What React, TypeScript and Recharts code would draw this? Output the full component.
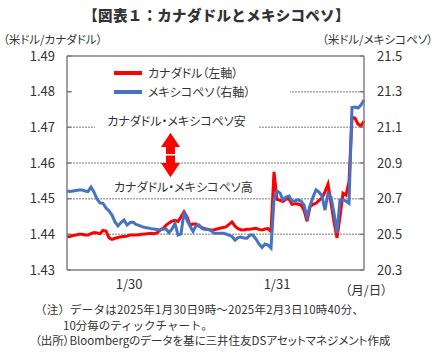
import React from 'react';
import { LineChart, Line, XAxis, YAxis, Legend, ReferenceLine } from 'recharts';

// 10分毎ティック（約3ピクセル毎に間引き）
const cadUsd = [
  1.4393, 1.4394, 1.4397, 1.4398, 1.44, 1.44, 1.4398, 1.4398, 1.4402, 1.4405,
  1.4404, 1.4402, 1.4411, 1.4409, 1.439, 1.4386, 1.4389, 1.4391, 1.4393, 1.4394,
  1.4395, 1.4398, 1.4398, 1.4398, 1.4399, 1.44, 1.4401, 1.4402, 1.4403, 1.4402,
  1.4404, 1.4412, 1.4416, 1.4425, 1.4432, 1.4437, 1.4439, 1.4436, 1.4449, 1.4463,
  1.4449, 1.4426, 1.4429, 1.4429, 1.4423, 1.4419, 1.4416, 1.4414, 1.4412, 1.4413,
  1.4415, 1.4417, 1.4419, 1.4421, 1.4428, 1.4435, 1.4423, 1.4416, 1.4413, 1.4412,
  1.4414, 1.4414, 1.4416, 1.4417, 1.4414, 1.4412, 1.4415, 1.4416, 1.4408, 1.4575,
  1.4498, 1.4495, 1.4492, 1.4499, 1.4499, 1.4484, 1.4486, 1.4485, 1.4482, 1.4468,
  1.4437, 1.4477, 1.4484, 1.4487, 1.4495, 1.4502, 1.452, 1.4541, 1.4488, 1.4435,
  1.439, 1.4449, 1.4515, 1.451, 1.4547, 1.4728, 1.4726, 1.4709, 1.4704, 1.4718,
];

const mxnUsd = [
  20.743, 20.74, 20.743, 20.746, 20.749, 20.749, 20.743, 20.74, 20.765, 20.737,
  20.698, 20.676, 20.674, 20.648, 20.631, 20.608, 20.569, 20.547, 20.566, 20.58,
  20.552, 20.566, 20.569, 20.555, 20.55, 20.543, 20.538, 20.536, 20.532, 20.53,
  20.527, 20.524, 20.53, 20.53, 20.51, 20.53, 20.561, 20.496, 20.502, 20.625,
  20.58, 20.547, 20.516, 20.547, 20.552, 20.533, 20.527, 20.528, 20.521, 20.507,
  20.506, 20.506, 20.506, 20.502, 20.496, 20.488, 20.468, 20.482, 20.485, 20.479,
  20.478, 20.496, 20.496, 20.474, 20.446, 20.426, 20.446, 20.44, 20.423, 20.693,
  20.743, 20.732, 20.693, 20.709, 20.715, 20.687, 20.687, 20.693, 20.687, 20.665,
  20.597, 20.659, 20.709, 20.749, 20.737, 20.715, 20.636, 20.73, 20.709, 20.62,
  20.507, 20.693, 20.693, 20.687, 20.674, 21.211, 21.214, 21.208, 21.225, 21.253,
];

const leftTicks = [1.43, 1.44, 1.45, 1.46, 1.47, 1.48, 1.49];
const rightTicks = [20.3, 20.5, 20.7, 20.9, 21.1, 21.3, 21.5];
const gridLevels = [1.44, 1.45, 1.46, 1.47, 1.48];
const dayBoundaries = [46.67, 93.33];
const dayLabelPos = [20.7, 70];
const dayLabels = ['1/30', '1/31'];

const data = cadUsd.map((cad, i) => ({ t: i, cad, mxn: mxnUsd[i] }));

const FONT = '"Noto Sans CJK JP", "Noto Sans", sans-serif';
const TXT = '#333';
const AXIS = '#808080';

const LegendBox = ({ payload }: any) => (
  <div style={{ background: '#fff', width: 217, height: 40, position: 'relative' }}>
    {(payload || []).map((p: any, i: number) => (
      <div
        key={p.value}
        style={{
          position: 'absolute',
          left: 41,
          top: 3 + i * 19,
          height: 16,
          display: 'flex',
          alignItems: 'center',
        }}
      >
        <span style={{ width: 28, height: 4, background: p.color, display: 'inline-block' }} />
        <span
          style={{
            marginLeft: 6,
            fontSize: 12,
            lineHeight: '16px',
            color: TXT,
            fontFeatureSettings: '"palt"',
            whiteSpace: 'nowrap',
          }}
        >
          {p.value}
        </span>
      </div>
    ))}
  </div>
);

const label = (
  text: string,
  left: number,
  cy: number,
  size: number,
  extra: React.CSSProperties = {}
) => (
  <div
    style={{
      position: 'absolute',
      left,
      top: cy - size / 2,
      fontSize: size,
      lineHeight: `${size}px`,
      color: TXT,
      whiteSpace: 'nowrap',
      fontFamily: FONT,
      ...extra,
    }}
  >
    {text}
  </div>
);

export default function App() {
  return (
    <div
      style={{
        position: 'absolute',
        left: 0,
        top: 0,
        width: 433,
        height: 356,
        background: '#fff',
        fontFamily: FONT,
      }}
    >
      <LineChart
        width={433}
        height={356}
        data={data}
        margin={{ top: 56, right: 9, left: 7, bottom: 65 }}
        style={{ fontFamily: FONT }}
      >
        <XAxis
          xAxisId="b"
          dataKey="t"
          type="number"
          domain={[0, 99]}
          ticks={dayBoundaries}
          tick={false}
          tickSize={-5}
          height={1}
          axisLine={{ stroke: AXIS, strokeWidth: 1.5 }}
          tickLine={{ stroke: AXIS, strokeWidth: 1.5 }}
        />
        <XAxis
          xAxisId="l"
          dataKey="t"
          type="number"
          domain={[0, 99]}
          ticks={dayLabelPos}
          interval={0}
          tickFormatter={(v: number) => dayLabels[dayLabelPos.indexOf(v)] ?? ''}
          tickSize={0}
          tickMargin={9}
          height={20}
          axisLine={false}
          tickLine={false}
          tick={{ fontSize: 13, fill: TXT }}
        />
        <YAxis
          yAxisId="left"
          domain={[1.43, 1.49]}
          ticks={leftTicks}
          interval={0}
          width={60}
          tickSize={-4}
          tickMargin={16}
          tickFormatter={(v: number) => v.toFixed(2)}
          axisLine={{ stroke: AXIS, strokeWidth: 1.5 }}
          tickLine={{ stroke: AXIS, strokeWidth: 1.5 }}
          tick={{ fontSize: 13, fill: TXT }}
        />
        <YAxis
          yAxisId="right"
          orientation="right"
          domain={[20.3, 21.5]}
          ticks={rightTicks}
          interval={0}
          width={60}
          tickSize={-4}
          tickMargin={17}
          tickFormatter={(v: number) => v.toFixed(1)}
          axisLine={{ stroke: AXIS, strokeWidth: 1.5 }}
          tickLine={{ stroke: AXIS, strokeWidth: 1.5 }}
          tick={{ fontSize: 13, fill: TXT, textAnchor: 'start' }}
        />
        <ReferenceLine xAxisId="b" yAxisId="left" y={gridLevels[0]} stroke="#a6a6a6" strokeWidth={1.5} strokeDasharray="2 1" />
        <ReferenceLine xAxisId="b" yAxisId="left" y={gridLevels[1]} stroke="#a6a6a6" strokeWidth={1.5} strokeDasharray="2 1" />
        <ReferenceLine xAxisId="b" yAxisId="left" y={gridLevels[2]} stroke="#a6a6a6" strokeWidth={1.5} strokeDasharray="2 1" />
        <ReferenceLine xAxisId="b" yAxisId="left" y={gridLevels[3]} stroke="#a6a6a6" strokeWidth={1.5} strokeDasharray="2 1" />
        <ReferenceLine xAxisId="b" yAxisId="left" y={gridLevels[4]} stroke="#a6a6a6" strokeWidth={1.5} strokeDasharray="2 1" />
        <ReferenceLine xAxisId="b" yAxisId="left" y={1.49} stroke={AXIS} strokeWidth={1.5} />
        <Legend
          layout="vertical"
          align="center"
          verticalAlign="middle"
          content={<LegendBox />}
          wrapperStyle={{ left: 73, top: 62, width: 217, height: 40 }}
        />
        <Line
          xAxisId="b"
          yAxisId="left"
          type="linear"
          dataKey="cad"
          name="カナダドル（左軸）"
          stroke="#ff0000"
          strokeWidth={3}
          dot={false}
          isAnimationActive={false}
        />
        <Line
          xAxisId="l"
          yAxisId="right"
          type="linear"
          dataKey="mxn"
          name="メキシコペソ（右軸）"
          stroke="#4472c4"
          strokeWidth={3}
          dot={false}
          isAnimationActive={false}
        />
      </LineChart>

      {/* タイトル・軸タイトル */}
      <div
        style={{
          position: 'absolute',
          left: 0,
          width: 433,
          top: 7,
          fontSize: 14.5,
          lineHeight: '15px',
          fontWeight: 900,
          textAlign: 'center',
          color: TXT,
          letterSpacing: 0.3,
        }}
      >
        【図表１：カナダドルとメキシコペソ】
      </div>
      {label('（米ドル/カナダドル）', 3, 40, 11.5, { fontFeatureSettings: '"palt"' })}
      {label('（米ドル/メキシコペソ）', 322, 40, 11.5, { fontFeatureSettings: '"palt"' })}
      {label('（月/日）', 345, 290, 12.5, { fontFeatureSettings: '"palt"' })}

      {/* 注記 */}
      <div
        style={{
          position: 'absolute',
          left: 95,
          top: 111,
          width: 163,
          height: 20,
          lineHeight: '20px',
          fontSize: 12,
          textAlign: 'center',
          background: '#fff',
          color: TXT,
          whiteSpace: 'nowrap',
          fontFeatureSettings: '"palt"',
        }}
      >
        カナダドル・メキシコペソ安
      </div>
      {label('カナダドル・メキシコペソ高', 114, 187, 12, { fontFeatureSettings: '"palt"' })}
      <svg width={433} height={356} style={{ position: 'absolute', left: 0, top: 0 }}>
        <polygon points="170.5,132.7 180,147 175,147 175,154 166,154 166,147 161,147" fill="#ff0000" />
        <polygon points="170.5,177.3 180,163 175,163 175,155.5 166,155.5 166,163 161,163" fill="#ff0000" />
      </svg>

      {/* 脚注 */}
      {label('（注）データは2025年1月30日9時～2025年2月3日10時40分、', 35, 309.5, 11.5, { letterSpacing: 0.2 })}
      {label('10分毎のティックチャート。', 63, 325.5, 11.5)}
      {label('（出所）Bloombergのデータを基に三井住友DSアセットマネジメント作成', 35, 341, 11.5, {
        fontFeatureSettings: '"palt"',
      })}
    </div>
  );
}
